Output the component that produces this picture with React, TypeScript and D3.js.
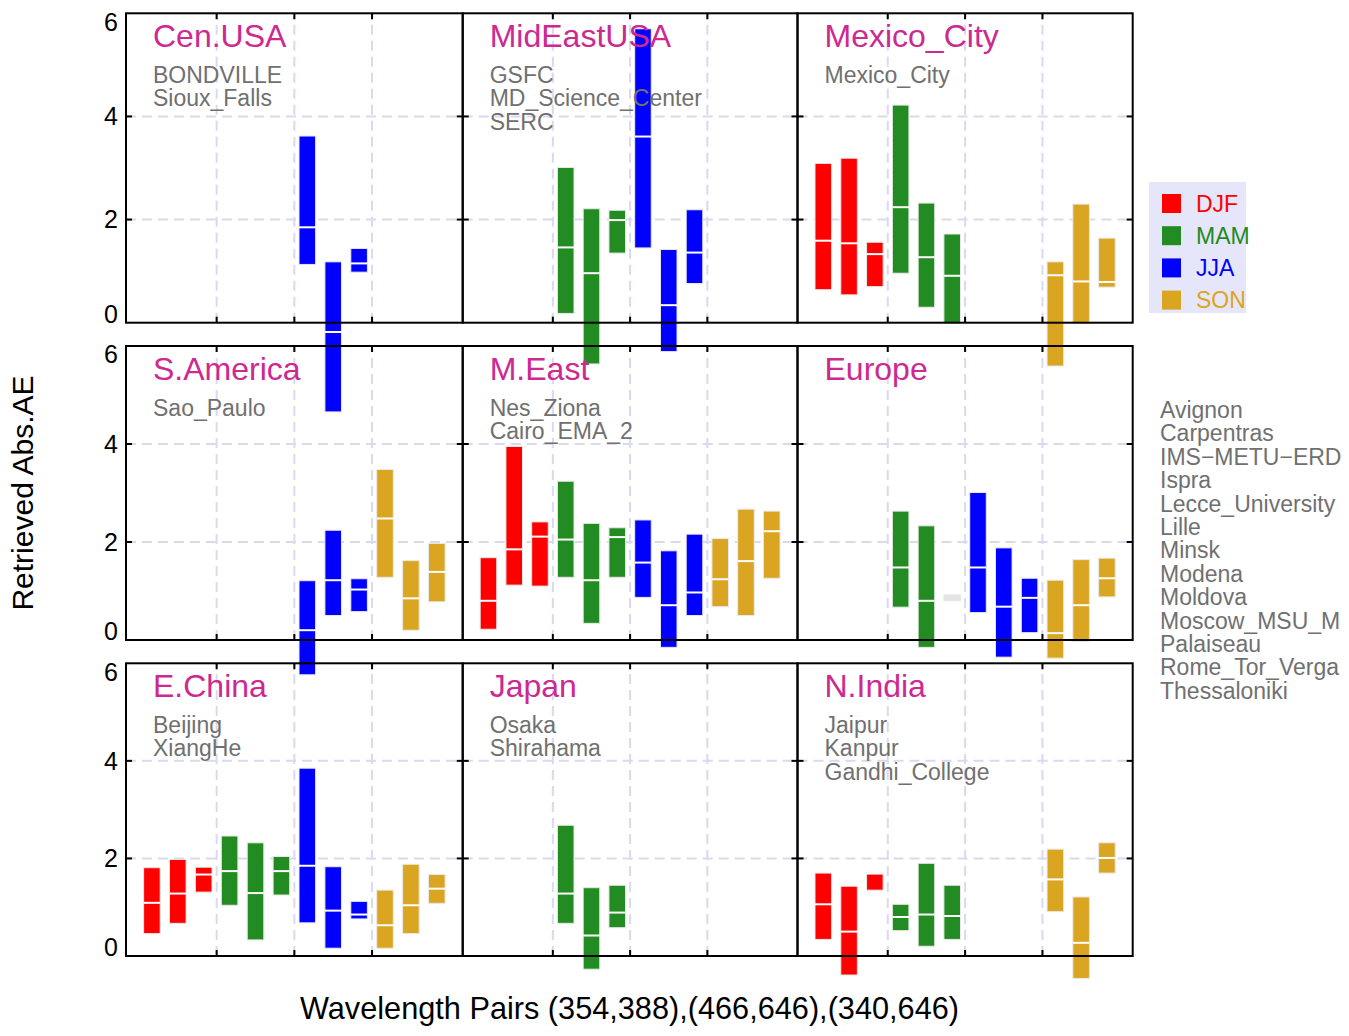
import React from 'react';
import * as d3 from 'd3';

// season order and colours
const seasons = ['DJF', 'MAM', 'JJA', 'SON'];
const seasonColors: Record<string, string> = {
  DJF: '#ff0000',
  MAM: '#228b22',
  JJA: '#0000ff',
  SON: '#daa520',
};

const regionNames = [
  'Cen.USA', 'MidEastUSA', 'Mexico_City',
  'S.America', 'M.East', 'Europe',
  'E.China', 'Japan', 'N.India',
];

const regionStations: string[][] = [
  ['BONDVILLE', 'Sioux_Falls'],
  ['GSFC', 'MD_Science_Center', 'SERC'],
  ['Mexico_City'],
  ['Sao_Paulo'],
  ['Nes_Ziona', 'Cairo_EMA_2'],
  [],
  ['Beijing', 'XiangHe'],
  ['Osaka', 'Shirahama'],
  ['Jaipur', 'Kanpur', 'Gandhi_College'],
];

// Europe sites, as far as they show before the figure's right edge
const europeStations = [
  'Avignon', 'Carpentras', 'IMS\u2212METU\u2212ERD', 'Ispra', 'Lecce_University',
  'Lille', 'Minsk', 'Modena', 'Moldova', 'Moscow_MSU_M', 'Palaiseau',
  'Rome_Tor_Verga', 'Thessaloniki',
];

// [season, wavelength pair (1..3), min, median, max]
type Bar = [string, number, number, number, number];

const cenUsaBars: Bar[] = [
  ['JJA', 1, 1.13, 1.85, 3.62],
  ['JJA', 2, -1.73, -0.18, 1.18],
  ['JJA', 3, 0.98, 1.15, 1.44],
];
const midEastUsaBars: Bar[] = [
  ['MAM', 1, 0.18, 1.46, 3.01],
  ['MAM', 2, -0.8, 0.96, 2.21],
  ['MAM', 3, 1.35, 1.99, 2.18],
  ['JJA', 1, 1.45, 3.61, 5.7],
  ['JJA', 2, -0.56, 0.34, 1.42],
  ['JJA', 3, 0.76, 1.36, 2.19],
];
const mexicoBars: Bar[] = [
  ['DJF', 1, 0.64, 1.59, 3.09],
  ['DJF', 2, 0.54, 1.54, 3.19],
  ['DJF', 3, 0.7, 1.33, 1.56],
  ['MAM', 1, 0.96, 2.24, 4.22],
  ['MAM', 2, 0.3, 1.27, 2.32],
  ['MAM', 3, -0.01, 0.91, 1.72],
  ['SON', 1, -0.84, 0.92, 1.18],
  ['SON', 2, -0.01, 0.8, 2.3],
  ['SON', 3, 0.69, 0.79, 1.64],
];
const sAmericaBars: Bar[] = [
  ['JJA', 1, -0.71, 0.2, 1.21],
  ['JJA', 2, 0.5, 1.22, 2.24],
  ['JJA', 3, 0.58, 1.03, 1.25],
  ['SON', 1, 1.28, 2.48, 3.48],
  ['SON', 2, 0.2, 0.85, 1.62],
  ['SON', 3, 0.78, 1.39, 1.97],
];
const mEastBars: Bar[] = [
  ['DJF', 1, 0.22, 0.8, 1.68],
  ['DJF', 2, 1.12, 1.85, 3.95],
  ['DJF', 3, 1.1, 2.11, 2.41],
  ['MAM', 1, 1.28, 2.05, 3.24],
  ['MAM', 2, 0.34, 1.22, 2.38],
  ['MAM', 3, 1.28, 2.1, 2.29],
  ['JJA', 1, 0.87, 1.58, 2.45],
  ['JJA', 2, -0.15, 0.71, 1.82],
  ['JJA', 3, 0.5, 0.97, 2.16],
  ['SON', 1, 0.68, 1.24, 2.07],
  ['SON', 2, 0.5, 1.61, 2.67],
  ['SON', 3, 1.26, 2.22, 2.63],
];
const europeBars: Bar[] = [
  ['MAM', 1, 0.67, 1.48, 2.63],
  ['MAM', 2, -0.15, 0.8, 2.33],
  ['MAM', 3, 0.85, 0.86, 0.87],
  ['JJA', 1, 0.56, 1.48, 3.01],
  ['JJA', 2, -0.35, 0.68, 1.88],
  ['JJA', 3, 0.15, 0.86, 1.26],
  ['SON', 1, -0.37, 0.14, 1.22],
  ['SON', 2, -0.03, 0.71, 1.64],
  ['SON', 3, 0.88, 1.26, 1.67],
];
const eChinaBars: Bar[] = [
  ['DJF', 1, 0.46, 1.09, 1.81],
  ['DJF', 2, 0.67, 1.28, 1.98],
  ['DJF', 3, 1.31, 1.67, 1.82],
  ['MAM', 1, 1.04, 1.74, 2.46],
  ['MAM', 2, 0.33, 1.29, 2.32],
  ['MAM', 3, 1.25, 1.74, 2.04],
  ['JJA', 1, 0.68, 1.85, 3.85],
  ['JJA', 2, 0.16, 0.93, 1.83],
  ['JJA', 3, 0.76, 0.85, 1.12],
  ['SON', 1, 0.16, 0.63, 1.35],
  ['SON', 2, 0.46, 1.04, 1.88],
  ['SON', 3, 1.08, 1.38, 1.67],
];
const japanBars: Bar[] = [
  ['MAM', 1, 0.67, 1.28, 2.68],
  ['MAM', 2, -0.27, 0.42, 1.4],
  ['MAM', 3, 0.58, 0.89, 1.45],
];
const nIndiaBars: Bar[] = [
  ['DJF', 1, 0.34, 1.06, 1.7],
  ['DJF', 2, -0.39, 0.5, 1.43],
  ['DJF', 3, 1.35, 1.69, 1.7],
  ['MAM', 1, 0.52, 0.8, 1.06],
  ['MAM', 2, 0.2, 0.85, 1.9],
  ['MAM', 3, 0.34, 0.82, 1.45],
  ['SON', 1, 0.91, 1.57, 2.19],
  ['SON', 2, -0.46, 0.27, 1.21],
  ['SON', 3, 1.7, 2.01, 2.32],
];

const regionBars = [
  cenUsaBars, midEastUsaBars, mexicoBars,
  sAmericaBars, mEastBars, europeBars,
  eChinaBars, japanBars, nIndiaBars,
];

const yTicks = [0, 2, 4, 6];
const gridY = [2, 4];

const W = 1349;
const H = 1036;
const colEdges = [126, 462.7, 797.5, 1132.7];
const rowEdges: [number, number][] = [[13.3, 322.7], [346, 640], [663.3, 956]];
const FONT = '"Liberation Sans", Arial, Helvetica, sans-serif';
const TITLE_COLOR = '#cd2990';
const STATION_COLOR = '#707070';
const GRID_COLOR = '#d9d9f0';

const panels = regionNames.map((name, i) => {
  const r = Math.floor(i / 3);
  const c = i % 3;
  const x = d3.scaleLinear().domain([0, 13]).range([colEdges[c], colEdges[c + 1]]);
  const y = d3.scaleLinear().domain([0, 6]).range([rowEdges[r][1], rowEdges[r][0]]);
  return { name, r, c, x, y, bars: regionBars[i], stations: regionStations[i] };
});

const slotOf = (season: string, pair: number) => seasons.indexOf(season) * 3 + pair;
const groupEdges = [3.5, 6.5, 9.5];

export default function App() {
  const slotW = panels[0].x(1) - panels[0].x(0);
  const barW = slotW * 0.64;
  const tick = 6;

  return (
    <svg width={W} height={H} style={{ position: 'absolute', left: 0, top: 0, background: '#fff' }} fontFamily={FONT}>
      {/* dashed grid */}
      {panels.map((p) => {
        const [x0, x1] = p.x.range();
        const [y0, y1] = p.y.range();
        return (
          <g key={'grid' + p.name} stroke={GRID_COLOR} strokeWidth={2} strokeDasharray="10,6">
            {gridY.map((v) => (
              <line key={v} x1={x0} x2={x1} y1={p.y(v)} y2={p.y(v)} />
            ))}
            {groupEdges.map((g) => (
              <line key={g} x1={p.x(g)} x2={p.x(g)} y1={y0} y2={y1} />
            ))}
          </g>
        );
      })}

      {/* floating bars with median */}
      {panels.map((p) => (
        <g key={'bars' + p.name}>
          {p.bars.map(([season, pair, lo, med, hi]) => {
            const cx = p.x(slotOf(season, pair));
            const tiny = hi - lo < 0.1;
            const top = tiny ? p.y(med) - 3 : p.y(hi);
            const h = tiny ? 6 : p.y(lo) - p.y(hi);
            return (
              <g key={season + pair}>
                <rect
                  x={cx - barW / 2}
                  y={top}
                  width={barW}
                  height={h}
                  fill={tiny ? '#e4e4e4' : seasonColors[season]}
                  stroke="#e8e8e8"
                  strokeWidth={1}
                />
                {!tiny && (
                  <line x1={cx - barW / 2} x2={cx + barW / 2} y1={p.y(med)} y2={p.y(med)} stroke="#fff" strokeWidth={2} />
                )}
              </g>
            );
          })}
        </g>
      ))}

      {/* frames, ticks, labels */}
      {panels.map((p) => {
        const [x0, x1] = p.x.range();
        const [y0, y1] = p.y.range();
        return (
          <g key={'frame' + p.name}>
            <rect x={x0} y={y1} width={x1 - x0} height={y0 - y1} fill="none" stroke="#000" strokeWidth={2} />
            <g stroke="#000" strokeWidth={2}>
              {groupEdges.map((g) => (
                <g key={g}>
                  <line x1={p.x(g)} x2={p.x(g)} y1={y0} y2={y0 - tick} />
                  <line x1={p.x(g)} x2={p.x(g)} y1={y1} y2={y1 + tick} />
                </g>
              ))}
              {gridY.map((v) => (
                <g key={v}>
                  <line x1={x0} x2={x0 + tick} y1={p.y(v)} y2={p.y(v)} />
                  <line x1={x1} x2={x1 - tick} y1={p.y(v)} y2={p.y(v)} />
                </g>
              ))}
            </g>
            {p.c === 0 &&
              yTicks.map((v) => {
                const cy = Math.max(y1 + 8.5, Math.min(y0 - 8.5, p.y(v)));
                return (
                  <text key={v} x={x0 - 8} y={cy} dy="0.35em" textAnchor="end" fontSize={25} fill="#000">
                    {v}
                  </text>
                );
              })}
            <text x={x0 + 27} y={y1 + 34} fontSize={32} fill={TITLE_COLOR}>
              {p.name}
            </text>
            {p.stations.map((s, k) => (
              <text key={s} x={x0 + 27} y={y1 + 69.5 + k * 23.5} fontSize={23} fill={STATION_COLOR}>
                {s}
              </text>
            ))}
          </g>
        );
      })}

      {/* legend */}
      <g>
        <rect x={1149} y={182} width={97} height={131} fill="#e6e6fa" />
        {seasons.map((s, k) => (
          <g key={s}>
            <rect x={1162} y={194 + k * 32.2} width={19} height={19} fill={seasonColors[s]} />
            <text x={1196} y={203.5 + k * 32.2} dy="0.35em" fontSize={23} fill={seasonColors[s]}>
              {s}
            </text>
          </g>
        ))}
      </g>

      {/* Europe station list */}
      <g>
        {europeStations.map((s, k) => (
          <text key={s} x={1160} y={418 + k * 23.4} fontSize={23} fill={STATION_COLOR}>
            {s}
          </text>
        ))}
      </g>

      {/* axis titles */}
      <text x={629.5} y={1019} textAnchor="middle" fontSize={30.7} fill="#000">
        Wavelength Pairs (354,388),(466,646),(340,646)
      </text>
      <text transform="translate(33,493) rotate(-90)" textAnchor="middle" fontSize={30} fill="#000">
        Retrieved Abs.AE
      </text>
    </svg>
  );
}
